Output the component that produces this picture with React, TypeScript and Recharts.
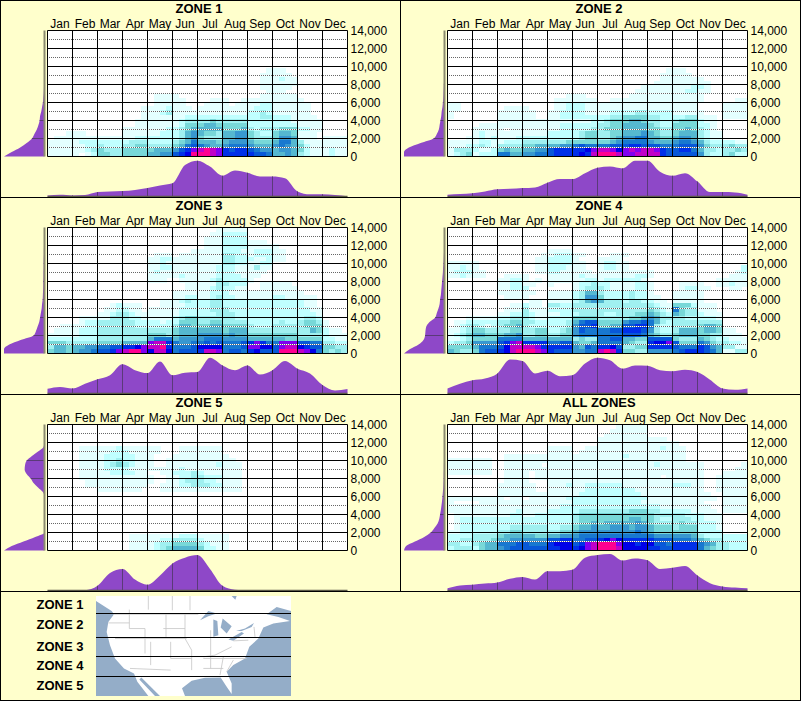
import { AreaChart, Area, ScatterChart, Scatter, XAxis, YAxis, ReferenceLine, CartesianGrid } from 'recharts'

// ── Data ──────────────────────────────────────────────────────────────────────

const MONTHS = ['Jan', 'Feb', 'Mar', 'Apr', 'May', 'Jun', 'Jul', 'Aug', 'Sep', 'Oct', 'Nov', 'Dec']
const ALT_TICKS = [0, 2000, 4000, 6000, 8000, 10000, 12000, 14000]
const ALT_DOTTED = [1000, 3000, 5000, 7000, 9000, 11000, 13000]
const ALT_MAX = 14000
const ROWS = 30
const COLS = 48

// heat level per cell: one string per altitude band, top band first, grouped by month
const E = '0000 0000 0000 0000 0000 0000 0000 0000 0000 0000 0000 0000'

const zone1Cells = [
  E, E, E, E, E, E, E, E, E,
  '0000 0000 0000 0000 0000 0000 0000 0000 0001 1100 0000 0000',
  '0000 0000 0000 0000 0000 0000 0000 0000 0011 1110 0000 0000',
  '0000 0000 0000 0000 0000 0000 0000 0000 0011 1211 0000 0000',
  '0000 0000 0000 0000 0000 0000 0000 0000 0011 1111 0000 0000',
  '0000 0000 0000 0000 0000 0000 0000 0000 0011 1110 0000 0000',
  '0000 0000 0000 0000 0000 0000 0000 0000 0001 1100 0000 0000',
  '0000 0000 0000 0000 0111 1000 0000 0000 0011 1111 0000 0000',
  '0000 0000 0000 0000 0111 1100 0011 1001 1111 1111 1000 0000',
  '0000 0000 0000 0000 0111 1100 0111 1011 1122 1111 1100 0000',
  '0000 0000 0000 0001 1112 1110 1111 1111 1222 1111 1100 0000',
  '0000 0000 0000 0001 1123 1111 1111 1111 2232 1111 1100 0000',
  '0000 0000 0000 0001 1111 1122 2222 2222 2233 2221 1110 0000',
  '0000 0000 0000 0011 1111 1233 3343 3333 2222 2221 1111 0000',
  '0000 0000 0000 0011 1111 1244 4554 4444 2222 2222 1111 0000',
  '0000 0000 0000 1111 1112 2345 5555 4445 3233 3444 2211 0000',
  '0001 1100 0000 1111 1122 2356 5443 5566 4322 4554 1110 0000',
  '0111 1111 1111 1122 2222 2356 4333 5566 4333 4665 1110 1111',
  '1111 1222 2222 2333 2222 3457 5554 5666 5444 5775 3111 1111',
  '1111 1122 3222 3344 3333 4578 7655 6777 6555 6765 4211 1111',
  '1111 1123 4333 4444 4555 689b cdcb 9899 8766 5665 4211 1211',
  '1111 1012 4433 4444 5566 89ad ddcb 9999 9887 5565 3211 1211',
]

const zone2Cells = [
  E, E, E, E, E, E, E, E, E,
  '0000 0000 0000 0000 0000 0000 0000 0000 0001 1100 0000 0000',
  '0000 0000 0000 0000 0000 0000 0000 0000 0011 1110 0000 0000',
  '0000 0000 0000 0000 0000 0000 0000 0000 0011 1111 1000 0000',
  '0000 0000 0000 0000 0000 0000 0000 0000 0111 1111 1100 0000',
  '0000 0000 0000 0000 0000 0000 0000 0001 1111 1112 2100 0000',
  '0000 0000 0000 0000 0000 0000 0000 0011 1111 1122 1100 0000',
  '0000 0000 0000 0000 0001 1100 0000 0111 1111 1111 1000 0000',
  '0000 0000 0000 0000 0111 1111 0011 1111 1111 1111 1000 0011',
  '1100 0000 0000 0000 0112 2211 1111 1111 1111 1111 0000 1111',
  '1100 0000 0111 1000 0112 2211 1111 1111 1111 1111 0000 1111',
  '1000 0000 1111 1100 1122 2211 1122 2233 2222 1111 1000 1111',
  '1000 0000 1111 1100 1122 2222 2233 4444 3322 2233 1110 1111',
  '0000 0000 1111 1111 1111 1112 2344 4554 3322 3444 2110 0000',
  '0000 0111 1111 1111 1122 2222 3344 5555 4322 4444 2210 0000',
  '0000 1111 1011 1111 1122 2223 3444 5555 4433 4454 3210 0000',
  '0000 1211 1111 1111 2222 2344 3344 5556 5433 4555 3211 0000',
  '0001 1212 1112 2222 2222 2344 3345 6677 5544 5665 3211 0000',
  '1111 1221 1222 3333 3334 4444 4456 7777 6555 6776 5322 2211',
  '1112 2321 3333 4455 5566 7877 7788 8998 8877 7888 6433 3433',
  '1333 2112 4544 5566 8999 99ab ccba bcbc cb98 8997 5332 3343',
  '1234 1222 7755 6677 8999 9a9c dddc bbcc cc98 8888 6322 3422',
]

const zone3Cells = [
  '0000 0000 0000 0000 0000 0000 0001 1111 0000 0000 0000 0000',
  '0000 0000 0000 0000 0000 0000 0011 2222 0000 0000 0000 0000',
  '0000 0000 0000 0000 0000 0000 0111 2222 0000 0000 0000 0000',
  '0000 0000 0000 0000 0000 0000 0111 2222 1110 0000 0000 0000',
  '0000 0000 0000 0000 0000 0000 0111 2222 1111 1000 0000 0000',
  '0000 0000 0000 0000 0000 0001 1111 2221 1222 1100 0000 0000',
  '0000 0000 0000 0000 0111 0111 1111 3322 1222 1100 0000 0000',
  '0000 0000 0000 0000 1122 1111 1111 3322 2112 1100 0000 0000',
  '0000 0000 0000 0000 1121 1111 1111 3322 1122 0000 0000 0000',
  '0000 0000 0000 0000 1122 1111 1112 2211 1311 0000 0000 0000',
  '0000 0000 0000 0000 1211 1111 1112 2211 1110 0000 0000 0000',
  '0000 0000 0000 0000 1111 1211 1112 2221 1100 0000 0000 0000',
  '0000 0000 0000 0000 1110 0111 1123 2222 1000 0000 0000 0000',
  '0000 0000 0000 0000 0000 0011 1113 3222 0011 1110 0000 0000',
  '0000 0000 0000 0000 0000 0011 1123 2211 0011 1111 0000 0000',
  '0000 0000 0000 0000 0000 1111 1122 2111 1111 1111 1000 0000',
  '0000 0000 0000 0000 0000 1122 1123 2211 1111 2211 1110 0000',
  '0000 0000 0000 0000 0011 1232 2233 2222 2222 2222 2110 0000',
  '0000 0000 0012 1110 0011 1122 2233 2222 2222 2222 2110 0000',
  '0000 0000 0112 2110 1111 1222 2233 3222 2222 2222 2211 0000',
  '0000 0000 1123 3211 1111 1222 2223 3322 2222 2222 2221 0000',
  '0000 0111 1133 3221 1111 2344 3333 3322 2222 2222 2332 0000',
  '0000 0122 3333 3322 2212 2444 3344 3333 2222 2322 3443 1000',
  '0011 1122 3333 3322 2222 3554 4455 4444 3222 3333 3444 1000',
  '0111 1222 3333 3333 3333 4555 5555 4555 3333 3333 3354 2110',
  '1111 1222 3333 3333 4443 4555 6666 5655 4444 4444 3333 2111',
  '2222 2222 3333 3333 5777 5666 6777 6666 5555 5544 4444 2211',
  '4443 3333 4444 5555 bcc9 7667 7878 7778 9b97 7bbb 8877 3322',
  '3554 5566 7788 99ab ccd9 7778 aaaa 7778 bbaa 8bcc a988 4433',
  '4554 5667 889b cddb acca 7888 9ccb 7887 9a88 8ddd cba7 4343',
]

const zone4Cells = [
  E, E, E, E, E,
  '0000 0000 0000 0000 1111 0000 0000 0000 0000 0000 0000 0000',
  '0000 0000 0000 0001 1222 1100 0011 1000 0000 0000 0000 0000',
  '0000 0000 0000 0011 2222 1000 1111 0000 0000 0000 0000 0000',
  '1111 1000 0000 0011 2222 1100 1221 1000 0000 0000 0000 0000',
  '1121 1000 0000 0011 2221 1100 1221 1000 0000 0000 0000 0002',
  '1222 1100 0000 0011 2211 1110 1111 1111 1000 0000 0000 0012',
  '1121 1100 0111 1000 1111 1211 1111 1122 1000 0000 0000 0111',
  '0000 0000 1122 1010 1111 1122 1222 2221 0000 0000 0001 1111',
  '0000 0000 1122 1100 1000 1223 2211 1122 1000 0111 1001 1211',
  '0000 0000 1122 2000 0000 1233 3211 1122 1000 0122 1100 0110',
  '0000 0000 1111 1100 1111 2355 3222 2322 1000 1111 1000 0000',
  '0000 0000 0111 1000 1111 2366 4222 2322 1100 1111 1000 0000',
  '0000 0000 0000 0110 1111 2356 5333 2332 2110 1111 1000 0000',
  '0000 0000 0011 2110 3322 3333 3333 3333 3211 4442 1110 0000',
  '0000 0000 0111 3111 2222 3333 3333 3333 4321 7433 1110 0000',
  '0000 0000 1122 3211 1122 2333 3223 3344 5432 5433 2111 0000',
  '0001 1111 2233 3211 2222 4444 3333 3445 6533 3322 2221 0000',
  '0112 2222 3344 3322 2223 5788 4444 6778 7532 3333 3333 0000',
  '0123 3212 3445 3222 2223 6889 4455 8899 7322 3333 4554 0000',
  '1123 4433 3344 3344 2234 6877 7788 9998 6322 3555 4554 1100',
  '1234 5544 4556 3344 3344 6777 7777 8887 5433 4555 4433 1110',
  '1123 4444 7777 5555 5555 3433 7788 5544 8888 4333 5432 2111',
  '2334 6666 89bc 9999 7788 5445 7777 5433 9aab 8444 7643 3221',
  '4444 5777 8acc ccb9 9999 6587 99a8 3344 9999 8777 9865 3311',
  '5433 4788 9acd ddcb 9888 6677 cdc9 4433 6666 7899 9875 1133',
]

const zone5Cells = [
  E, E, E, E, E,
  '0000 0111 1112 1111 1100 0111 1111 0000 0000 0000 0000 0000',
  '0000 0111 1122 2111 1100 0111 1111 0000 0000 0000 0000 0000',
  '0000 0111 1222 2211 1000 1111 1111 1000 0000 0000 0000 0000',
  '0000 0111 1223 2211 1001 1111 1111 1100 0000 0000 0000 0000',
  '0000 0111 1234 3211 1001 1111 1112 1110 0000 0000 0000 0000',
  '0000 0111 1222 2111 1111 1211 1111 1110 0000 0000 0000 0000',
  '0000 0111 1122 2211 0011 2223 2111 1110 0000 0000 0000 0000',
  '0000 0111 1111 1111 1001 1223 3222 1110 0000 0000 0000 0000',
  '0000 0011 1111 1111 1001 1233 3221 1110 0000 0000 0000 0000',
  '0000 0011 1111 1111 0011 1223 3322 1110 0000 0000 0000 0000',
  '0000 0000 1111 1110 0011 1111 1111 1110 0000 0000 0000 0000',
  E, E, E, E, E, E, E, E, E,
  '0000 0000 0000 0000 0000 0000 0000 0000 0000 0000 0000 0000',
  '0000 0000 0000 0111 1111 1222 1111 1000 0000 0000 0000 0000',
  '0000 0000 0000 0111 1122 3333 2111 1000 0000 0000 0000 0000',
  '0000 0000 0000 0111 1233 4444 3211 1000 0000 0000 0000 0000',
  '0000 0000 0000 0111 1234 5555 4221 1000 0000 0000 0000 0000',
]

const allZoneCells = [
  '0000 0000 0000 0000 0000 0000 0001 1111 0000 0000 0000 0000',
  '0000 0000 0000 0000 0000 0000 0011 1111 0000 0000 0000 0000',
  '0000 0000 0000 0000 0000 0000 0111 1111 0000 0000 0000 0000',
  '0000 0000 0000 0000 0000 0000 1111 1111 1110 0000 0000 0000',
  '0000 0000 0000 0000 0000 0000 1111 1111 1111 1000 0000 0000',
  '0000 0000 0000 0000 1111 0011 1111 1111 1121 1100 0000 0000',
  '0000 0000 0000 0000 1111 0111 1111 1111 1111 1100 0000 0000',
  '0000 0000 0111 1111 1111 1111 1111 2111 1111 1100 0000 0000',
  '1111 1110 0111 1111 1111 1111 1111 1111 1111 1100 0000 0000',
  '1111 1110 0111 1110 1111 1111 1111 1111 1211 1111 1000 0001',
  '1111 1110 0111 1111 1111 1111 1111 1111 1111 1111 1000 0011',
  '1111 1110 0111 1011 1111 1111 1111 1111 1111 1111 1000 1111',
  '0000 0000 0111 1011 1111 1111 1111 1111 1101 1111 1001 1111',
  '0000 0000 0111 1000 1111 1111 1111 1111 1111 1111 1001 1111',
  '0000 0000 1111 1100 1112 1122 2222 1111 1111 2221 1001 1111',
  '0000 0000 1111 1100 1111 1122 2222 2211 1111 1111 1001 1111',
  '0000 0000 1111 1111 1111 1222 2222 2221 1111 1111 1100 1111',
  '1111 1111 1011 0111 1112 2222 2222 2222 1111 1111 1110 1111',
  '1000 0111 1111 1111 1111 2222 2222 2221 1111 1111 1000 1111',
  '1111 1111 1111 1111 1122 2222 2222 2222 2211 1111 1100 1111',
  '1111 1111 1112 1111 2222 2333 3333 3444 3322 2221 1110 1111',
  '0111 1111 1122 1122 2222 3444 4444 4444 4333 3322 2111 0000',
  '0122 2222 2222 2222 2222 3444 4444 4554 4322 3332 2111 0000',
  '0122 2222 2222 2222 2222 3445 4555 5565 4333 3433 2221 0000',
  '0122 2222 2233 3333 2233 4556 5566 6566 5444 3444 2221 0000',
  '1122 2222 3344 3333 3344 5666 6666 6676 5444 4444 2222 0000',
  '2222 3333 4555 5544 5566 6777 7777 7777 7666 6665 3222 2222',
  '2233 3334 5566 6666 8899 7788 9aba 9999 9888 7776 5433 2222',
  '3322 3455 7778 8777 9aaa 89bc dddb aa9a a887 9999 7653 3222',
  '2333 2455 6788 8888 99aa 9abc dddc aaaa 9988 9999 7543 3222',
]

// monthly profile along the bottom, one value per half month
const zone1Months = [3, 5, 3, 4, 12, 14, 15, 18, 23, 30, 36, 86, 98, 82, 57, 71, 65, 55, 55, 50, 14, 6, 6, 4, 1]
const zone2Months = [5, 7, 9, 14, 20, 21, 23, 25, 38, 48, 48, 64, 79, 82, 77, 98, 98, 68, 57, 64, 41, 12, 12, 11, 5]
const zone3Months = [13, 18, 14, 27, 39, 50, 80, 64, 56, 88, 50, 57, 59, 98, 77, 64, 77, 52, 64, 89, 68, 55, 23, 8, 12]
const zone4Months = [14, 27, 36, 41, 55, 93, 89, 55, 62, 47, 50, 82, 98, 91, 68, 77, 76, 64, 61, 65, 59, 38, 14, 10, 14]
const zone5Months = [1, 1, 1, 1, 13, 48, 59, 30, 16, 41, 74, 90, 97, 59, 13, 2, 0, 0, 0, 0, 0, 0, 0, 0, 0]
const allZoneMonths = [6, 14, 16, 19, 22, 32, 37, 30, 53, 53, 57, 90, 97, 100, 82, 88, 83, 59, 62, 67, 41, 20, 11, 8, 6]

// altitude profile on the left, one value per 500 ft from 0 up
const zone1Alts = [100, 81, 60, 44, 31, 25, 19, 15, 12, 11, 8, 6, 4, 3, 2, 1.5, 1, 0.5, 0.5, 0, 0, 0, 0, 0, 0, 0, 0, 0, 0]
const zone2Alts = [100, 100, 88, 59, 27, 19, 14, 12, 10, 8, 7, 5, 4, 3, 2.5, 2, 1.5, 1, 0.5, 0, 0, 0, 0, 0, 0, 0, 0, 0, 0]
const zone3Alts = [100, 100, 87, 59, 27, 21, 17, 13, 11, 9, 7, 6, 4.5, 4, 3.5, 3, 3, 2.5, 2.5, 2, 2, 2, 1.5, 1.5, 1, 1, 1, 0.5, 0.5]
const zone4Alts = [100, 85, 64, 52, 48, 47, 45, 37, 23, 19, 15, 12, 11, 9, 8, 7, 6, 5, 4, 3.5, 2.5, 2, 1.5, 1, 0.5, 0, 0, 0, 0]
const zone5Alts = [100, 81, 52, 23, 0, 0, 0, 0, 0, 0, 0, 0, 0, 4, 16, 27, 34, 44, 49, 48, 44, 31, 16, 2.5, 0, 0, 0, 0, 0]
const allZoneAlts = [100, 95, 73, 50, 34, 25, 17, 13, 11, 9, 7.5, 6, 5, 4, 3, 2.5, 2, 2, 1.5, 1.5, 1, 1, 1, 0.5, 0.5, 0, 0, 0, 0]

const ZONE_LABELS = ['ZONE 1', 'ZONE 2', 'ZONE 3', 'ZONE 4', 'ZONE 5']

// ── Styles ────────────────────────────────────────────────────────────────────

const FONT = '"Liberation Sans", Arial, sans-serif'
const PAGE_BG = '#ffffcc'
const PURPLE = '#8e48c8'
const PROFILE_LINE = '#5a3a78'

const HEAT: Record<string, string> = {
  '1': '#e4ffff', '2': '#c0ffff', '3': '#a0f0f0', '4': '#78d8d8',
  '5': '#55b8d0', '6': '#3898d0', '7': '#1878d0', '8': '#0858d8',
  '9': '#0030e8', a: '#0000e8', b: '#8000f0', c: '#c000c8', d: '#ff0090',
}

const CELL_W = 300 / COLS
const CELL_H = 126 / ROWS

// ── Panel pieces ──────────────────────────────────────────────────────────────

function cellPoints(rows: string[]) {
  const pts: { x: number; y: number; level: string }[] = []
  rows.forEach((row, r) => {
    row.replace(/ /g, '').split('').forEach((level, c) => {
      if (level === '0') return
      pts.push({ x: c + 0.5, y: ((ROWS - r - 0.5) * ALT_MAX) / ROWS, level })
    })
  })
  return pts
}

function HeatCell({ cx, cy, payload }: any) {
  return (
    <rect
      x={cx - CELL_W / 2}
      y={cy - CELL_H / 2}
      width={CELL_W + 0.5}
      height={CELL_H + 0.5}
      fill={HEAT[payload.level]}
      shapeRendering="crispEdges"
    />
  )
}

function HeatMap({ cells }: { cells: string[] }) {
  const tick = { fontSize: 12, fill: '#000', fontFamily: FONT }
  return (
    <ScatterChart width={400} height={168} margin={{ top: 10.5, right: 0, left: 47.5, bottom: 11.5 }}>
      <CartesianGrid fill="#fff" stroke="none" />
      <XAxis
        type="number"
        dataKey="x"
        orientation="top"
        domain={[0, COLS]}
        ticks={MONTHS.map((_, i) => i * 4 + 2)}
        tickFormatter={v => MONTHS[(v - 2) / 4]}
        interval={0}
        height={20}
        tick={tick}
        tickSize={0}
        tickMargin={3}
        axisLine={false}
        tickLine={false}
      />
      <YAxis
        type="number"
        dataKey="y"
        orientation="right"
        domain={[0, ALT_MAX]}
        ticks={ALT_TICKS}
        tickFormatter={v => v.toLocaleString('en-US')}
        interval={0}
        width={52.5}
        tick={tick}
        tickSize={0}
        tickMargin={3}
        axisLine={false}
        tickLine={false}
      />
      <Scatter data={cellPoints(cells)} shape={HeatCell} isAnimationActive={false} />
    </ScatterChart>
  )
}

// the cells paint over reference lines, so the grid gets its own chart on top
const GRID_CORNERS = [{ x: 0, y: 0 }, { x: COLS, y: ALT_MAX }]

function GridOverlay() {
  return (
    <ScatterChart width={400} height={168} margin={{ top: 30.5, right: 52.5, left: 47.5, bottom: 11.5 }}>
      <XAxis type="number" dataKey="x" domain={[0, COLS]} hide />
      <YAxis type="number" dataKey="y" domain={[0, ALT_MAX]} hide />
      <Scatter data={GRID_CORNERS} shape={() => <g />} isAnimationActive={false} />
      {ALT_DOTTED.map(v => (
        <ReferenceLine key={`d${v}`} y={v} stroke="#666" strokeDasharray="1 1" strokeDashoffset={0.5} />
      ))}
      {ALT_DOTTED.map(v => (
        <ReferenceLine key={`w${v}`} y={v} stroke="#fff" strokeDasharray="1 1" strokeDashoffset={1.5} />
      ))}
      {ALT_TICKS.map(v => <ReferenceLine key={v} y={v} stroke="#000" />)}
      {MONTHS.map((_, i) => <ReferenceLine key={i} x={i * 4} stroke="#000" />)}
      <ReferenceLine x={COLS} stroke="#000" />
    </ScatterChart>
  )
}

function MonthProfile({ values }: { values: number[] }) {
  const data = values.map((v, i) => ({ month: i / 2, v }))
  return (
    <AreaChart width={400} height={38} data={data} margin={{ top: 0, right: 52.5, left: 47.5, bottom: 1.5 }}>
      <XAxis type="number" dataKey="month" domain={[0, 12]} hide />
      <YAxis domain={[0, 100]} hide />
      <Area type="monotone" dataKey="v" fill={PURPLE} fillOpacity={1} stroke="none" isAnimationActive={false} />
      {MONTHS.slice(1).map((_, i) => (
        <ReferenceLine
          key={i}
          segment={[{ x: i + 1, y: 0 }, { x: i + 1, y: values[(i + 1) * 2] }]}
          stroke={PROFILE_LINE}
        />
      ))}
      <ReferenceLine y={0} stroke="#5c5a48" strokeWidth={1.5} />
    </AreaChart>
  )
}

function AltProfile({ values }: { values: number[] }) {
  const data = values.map((v, i) => ({ alt: i * 500, v }))
  return (
    <AreaChart layout="vertical" width={43} height={127} data={data} margin={{ top: 0.5, right: 2.5, left: 0, bottom: 0.5 }}>
      <XAxis type="number" domain={[0, 100]} reversed hide />
      <YAxis type="number" dataKey="alt" domain={[0, ALT_MAX]} reversed hide />
      <Area type="monotone" dataKey="v" fill={PURPLE} fillOpacity={1} stroke="none" isAnimationActive={false} />
      {ALT_TICKS.slice(1, -1).map(a => (
        <ReferenceLine
          key={a}
          segment={[{ x: 0, y: a }, { x: values[a / 500], y: a }]}
          stroke={PROFILE_LINE}
        />
      ))}
      <ReferenceLine x={0} stroke="#8a8a70" strokeWidth={2} />
    </AreaChart>
  )
}

function Panel({ title, left, top, cells, months, alts }: {
  title: string; left: number; top: number; cells: string[]; months: number[]; alts: number[]
}) {
  return (
    <div style={{ position: 'absolute', left, top, width: 400, height: 197 }}>
      <div style={{ position: 'absolute', left: 0, top: 0 }}><HeatMap cells={cells} /></div>
      <div style={{ position: 'absolute', left: 0, top: 0 }}><GridOverlay /></div>
      <div style={{ position: 'absolute', left: 4, top: 30 }}><AltProfile values={alts} /></div>
      <div style={{ position: 'absolute', left: 0, top: 159.5 }}><MonthProfile values={months} /></div>
      <div style={{
        position: 'absolute', left: 0, top: 2, width: 398, textAlign: 'center',
        font: `bold 13px ${FONT}`, lineHeight: '14px', color: '#000',
      }}>{title}</div>
    </div>
  )
}

function HLine({ y }: { y: number }) {
  return <div style={{ position: 'absolute', left: 0, top: y, width: 801, height: 1, background: '#000' }} />
}

function VLine({ x, h }: { x: number; h: number }) {
  return <div style={{ position: 'absolute', left: x, top: 0, width: 1, height: h, background: '#000' }} />
}

// Locator map of the five bands, sketched by hand
function ZoneMap() {
  const state = '#c8c8c8'
  return (
    <svg
      width={195}
      height={100}
      viewBox="288 17 585 301"
      preserveAspectRatio="none"
      style={{ position: 'absolute', left: 96, top: 596 }}
    >
      <rect x={288} y={17} width={585} height={301} fill="#94adc8" />
      <path
        d="M288 17 L288 32 L335 62 L342 72 L325 95 L320 125 L330 165 L345 205 L372 235 L402 250 L412 275 L445 318 L465 318 L418 268 L424 262 L480 318 L555 318 L546 295 L575 272 L615 263 L662 262 L680 290 L695 312 L695 280 L680 245 L700 225 L735 205 L748 170 L775 145 L790 112 L820 100 L870 92 L835 80 L800 72 L830 50 L873 62 L873 17 Z"
        fill="#fff"
      />
      <path
        d="M600 90 L625 62 L650 70 L625 78 Z M640 88 L652 92 L655 135 L640 140 Z M668 85 L695 108 L680 130 L662 112 Z M685 148 L725 125 L732 130 L700 152 Z M708 122 L735 115 L762 98 L755 110 L725 122 Z M695 17 L710 17 L706 28 Z"
        fill="#94adc8"
      />
      <path
        d="M340 72 L595 72 M388 58 L388 115 L435 115 L435 190 M325 98 L388 98 M345 145 L560 145 M452 155 L452 225 M512 155 L512 205 L575 205 M498 72 L498 140 M555 72 L555 145 L575 180 L575 240 M632 120 L632 235 M695 170 L645 195 L610 200 M610 205 L740 205 M610 235 L670 235 M445 17 L445 58 M517 17 L517 60 M570 17 L570 60 M390 235 L512 240 M490 115 L555 115 M700 152 L745 150 M762 110 L765 140 M670 200 L660 255 M700 210 L680 245"
        fill="none"
        stroke={state}
        strokeWidth={2.5}
      />
    </svg>
  )
}

// ── App ───────────────────────────────────────────────────────────────────────

export default function App() {
  return (
    <div style={{ position: 'absolute', left: 0, top: 0, width: 801, height: 701, background: PAGE_BG, fontFamily: FONT, overflow: 'hidden' }}>
      <Panel title="ZONE 1" left={0} top={0} cells={zone1Cells} months={zone1Months} alts={zone1Alts} />
      <Panel title="ZONE 2" left={400} top={0} cells={zone2Cells} months={zone2Months} alts={zone2Alts} />
      <Panel title="ZONE 3" left={0} top={197} cells={zone3Cells} months={zone3Months} alts={zone3Alts} />
      <Panel title="ZONE 4" left={400} top={197} cells={zone4Cells} months={zone4Months} alts={zone4Alts} />
      <Panel title="ZONE 5" left={0} top={394} cells={zone5Cells} months={zone5Months} alts={zone5Alts} />
      <Panel title="ALL ZONES" left={400} top={394} cells={allZoneCells} months={allZoneMonths} alts={allZoneAlts} />

      <HLine y={0} />
      <HLine y={197} />
      <HLine y={394} />
      <HLine y={591} />
      <HLine y={700} />
      <VLine x={0} h={701} />
      <VLine x={400} h={591} />
      <VLine x={800} h={701} />

      <ZoneMap />
      {[613, 637, 656, 676].map(y => (
        <div key={y} style={{ position: 'absolute', left: 96, top: y, width: 195, height: 1, background: '#000' }} />
      ))}
      {ZONE_LABELS.map((label, i) => (
        <div key={label} style={{
          position: 'absolute', left: 0, top: [598, 618, 640, 659, 679][i], width: 83.5, textAlign: 'right',
          font: `bold 13px ${FONT}`, lineHeight: '14px', color: '#000',
        }}>{label}</div>
      ))}
    </div>
  )
}
